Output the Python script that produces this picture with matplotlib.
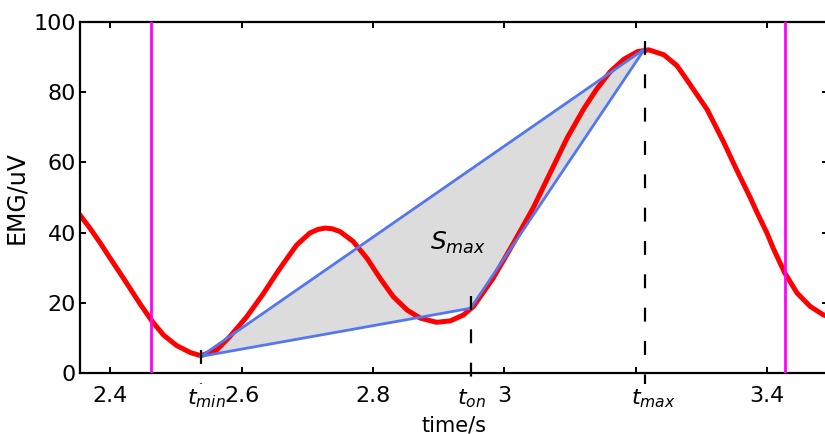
import numpy as np
import matplotlib.pyplot as plt

# EMG trace (time in s, amplitude in uV)
time_s = [2.354, 2.369, 2.385, 2.400, 2.415, 2.430, 2.446, 2.463, 2.481,
          2.501, 2.522, 2.538, 2.562, 2.582, 2.608, 2.633, 2.654, 2.664,
          2.684, 2.704, 2.716, 2.727, 2.738, 2.750, 2.770, 2.791, 2.811,
          2.831, 2.852, 2.872, 2.897, 2.918, 2.938, 2.953, 2.983, 3.014,
          3.044, 3.070, 3.096, 3.121, 3.141, 3.161, 3.182, 3.203, 3.220,
          3.243, 3.263, 3.278, 3.309, 3.334, 3.349, 3.359, 3.375, 3.385,
          3.400, 3.410, 3.427, 3.446, 3.466, 3.486, 3.500]
emg_uv = [45.0, 41.3, 37.0, 32.7, 28.5, 24.2, 19.6, 15.0, 10.9,
          7.9, 5.9, 5.0, 6.6, 10.4, 16.1, 22.6, 28.6, 31.3,
          36.5, 39.9, 40.9, 41.3, 41.1, 40.3, 37.5, 32.7, 27.0,
          21.8, 18.0, 15.7, 14.5, 14.9, 16.6, 19.0, 27.0, 37.0,
          47.0, 57.0, 67.0, 75.2, 80.9, 85.7, 89.3, 91.5, 92.0,
          90.6, 87.5, 83.5, 75.0, 65.8, 59.8, 55.9, 49.8, 45.7,
          39.9, 35.4, 28.6, 22.8, 19.0, 16.6, 15.8]

# window bounds (magenta) and the three characteristic points
window = [2.462, 3.427]
t_names = ['min', 'on', 'max']
t_points = [2.538, 2.949, 3.214]
y_points = [4.8, 18.5, 92.3]
dash_tops = [6.5, 22.0, 94.5]

xticks = [2.4, 2.6, 2.8, 3.0, 3.2, 3.4]
xtick_labels = ['2.4', '2.6', '2.8', '3', '', '3.4']
yticks = [0, 20, 40, 60, 80, 100]

plt.rcParams['lines.scale_dashes'] = False
plt.rcParams['mathtext.fontset'] = 'dejavusans'

fig = plt.figure(figsize=(8.25, 4.34), dpi=100)
ax = fig.add_axes([80 / 825, 0.1399, (828 - 80) / 825, 0.8101])

# shaded triangle
ax.fill(t_points, y_points, color='#dcdcdc', zorder=1, lw=0)

ax.plot(time_s, emg_uv, color='red', lw=3.6, zorder=2,
        solid_joinstyle='round', solid_capstyle='round')

for w in window:
    ax.axvline(w, color='#ff00ff', lw=2, zorder=3)

blue = '#5577ee'
ax.plot([t_points[0], t_points[2]], [y_points[0], y_points[2]], color=blue, lw=2, zorder=4)
ax.plot([t_points[0], t_points[1], t_points[2]],
        [y_points[0], y_points[1], y_points[2]], color=blue, lw=2, zorder=4)

for t, top, name in zip(t_points, dash_tops, t_names):
    ax.plot([t, t], [top, -3.0], color='black', lw=1.6, dashes=(10, 14),
            clip_on=False, zorder=5)
    ax.text(t - 0.021, -3.9, '$t_{%s}$' % name, fontsize=16, ha='left', va='top',
            clip_on=False)

ax.text(2.887, 35, '$S_{max}$', fontsize=18, ha='left', va='baseline', zorder=6)

ax.set_xlim(2.354, 3.493)
ax.set_ylim(0, 100)
ax.set_xticks(xticks)
ax.set_xticklabels(xtick_labels)
ax.set_yticks(yticks)
ax.tick_params(direction='in', length=4, width=1.4, top=True, right=True,
               labelsize=16)
ax.tick_params(axis='x', pad=9)
ax.tick_params(axis='y', pad=3)
for s in ax.spines.values():
    s.set_linewidth(1.6)

ax.set_ylabel('EMG/uV', fontsize=17, labelpad=4)
ax.set_xlabel('time/s', fontsize=15, labelpad=7)

fig.savefig('out.png', dpi=100)
